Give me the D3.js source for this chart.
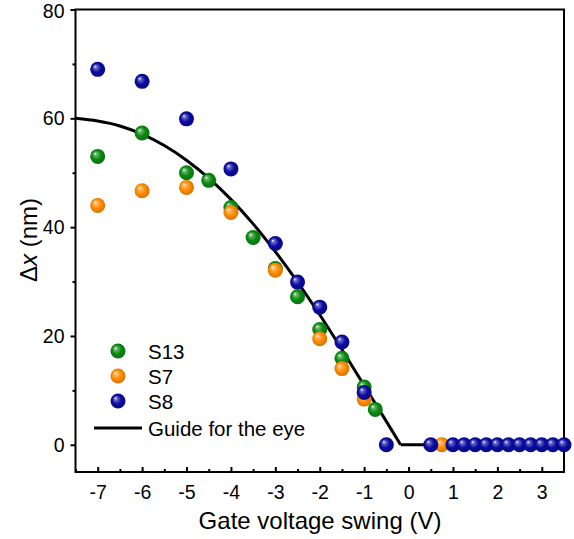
<!DOCTYPE html>
<html>
<head>
<meta charset="utf-8">
<script src="https://cdnjs.cloudflare.com/ajax/libs/d3/7.8.5/d3.min.js"></script>
<style>
  body { margin: 0; background: #fff; }
  text { font-family: "Liberation Sans", Arial, sans-serif; fill: #000; }
</style>
</head>
<body>
<svg width="574" height="539"></svg>
<script>
// series
var s13X = [-7, -6, -5, -4.5, -4, -3.5, -3, -2.5, -2, -1.5, -1, -0.75];
var s13Y = [53, 57.3, 50, 48.6, 43.6, 38.1, 32.4, 27.2, 21.2, 15.9, 10.6, 6.5];

var s7X = [-7, -6, -5, -4, -3, -2, -1.5, -1, 0.75];
var s7Y = [44, 46.7, 47.3, 42.7, 32.1, 19.5, 14, 8.4, 0];

var s8X = [-7, -6, -5, -4, -3, -2.5, -2, -1.5, -1, -0.5, 0.5, 1, 1.25, 1.5, 1.75, 2, 2.25, 2.5, 2.75, 3, 3.25, 3.5];
var s8Y = [69, 66.8, 59.9, 50.7, 37, 29.9, 25.3, 18.9, 9.6, 0, 0, 0, 0, 0, 0, 0, 0, 0, 0, 0, 0, 0];

// guide for the eye: curved part, then flat part
var guideX = [-7.5, -7, -6.5, -6, -5.5, -5, -4.5, -4, -3.5, -3, -2.5, -2, -1.5, -1, -0.5, -0.18];
var guideY = [60, 59.5, 58.6, 57.1, 55.0, 52.3, 49.0, 45.1, 40.6, 35.5, 29.9, 23.9, 17.5, 10.9, 4.3, 0];
var flatX = [-0.18, 3.5];
var flatY = [0, 0];

var xTicks = [-7, -6, -5, -4, -3, -2, -1, 0, 1, 2, 3];
var yTicks = [0, 20, 40, 60, 80];

var seriesNames = ["S13", "S7", "S8"];
var seriesColors = ["#0a8a10", "#ff8c00", "#0a0aa0"];

var svg = d3.select("svg");
var x = d3.scaleLinear().domain([-7.5, 3.5]).range([75.5, 564]);
var y = d3.scaleLinear().domain([-5, 80]).range([472, 9.5]);

// ball gradients
var defs = svg.append("defs");
seriesColors.forEach(function(c, i) {
  var g = defs.append("radialGradient").attr("id", "ball" + i)
    .attr("cx", "50%").attr("cy", "50%").attr("r", "55%")
    .attr("fx", "32%").attr("fy", "30%");
  g.append("stop").attr("offset", "0%").attr("stop-color", "#ffffff");
  g.append("stop").attr("offset", "18%").attr("stop-color", d3.interpolateRgb("#fff", c)(0.6));
  g.append("stop").attr("offset", "55%").attr("stop-color", c);
  g.append("stop").attr("offset", "100%").attr("stop-color", d3.color(c).darker(0.6));
});

// axes
var xMajor = d3.axisBottom(x).tickValues(xTicks).tickSize(-5).tickPadding(13)
  .tickFormat(function(d) { return d < 0 ? "-" + Math.abs(d) : d; });
var xMinor = d3.axisBottom(x).tickValues(d3.range(-7.5, 3.5, 1)).tickSize(-3).tickFormat("");
var yMajor = d3.axisLeft(y).tickValues(yTicks).tickSize(5).tickPadding(6);
var yMinor = d3.axisLeft(y).tickValues([10, 30, 50, 70]).tickSize(3).tickFormat("");

function styleAxis(g) {
  g.select(".domain").remove();
  g.selectAll("line").attr("stroke", "#000").attr("stroke-width", 2);
  g.selectAll("text").attr("font-size", 19.5).attr("font-family", "Liberation Sans, Arial, sans-serif");
}
svg.append("g").attr("transform", "translate(0,472)").call(xMinor).call(styleAxis);
svg.append("g").attr("transform", "translate(0,472)").call(xMajor).call(styleAxis);
svg.append("g").attr("transform", "translate(75.5,0)").call(yMinor).call(styleAxis);
var yAx = svg.append("g").attr("transform", "translate(75.5,0)").call(yMajor).call(styleAxis);
// keep the top label inside the page
yAx.selectAll(".tick text").filter(function(d) { return d === 80; }).attr("y", 2);

// frame
svg.append("rect").attr("x", 75.5).attr("y", 9.5).attr("width", 564 - 75.5).attr("height", 472 - 9.5)
  .attr("fill", "none").attr("stroke", "#000").attr("stroke-width", 2);

// guide line
var line = d3.line().x(function(d) { return x(d[0]); }).y(function(d) { return y(d[1]); });
svg.append("path").datum(guideX.map(function(d, i) { return [d, guideY[i]]; }))
  .attr("d", line.curve(d3.curveMonotoneX))
  .attr("fill", "none").attr("stroke", "#000").attr("stroke-width", 3);
svg.append("path").datum(flatX.map(function(d, i) { return [d, flatY[i]]; }))
  .attr("d", line.curve(d3.curveLinear))
  .attr("fill", "none").attr("stroke", "#000").attr("stroke-width", 3);

// points
var allX = [s13X, s7X, s8X], allY = [s13Y, s7Y, s8Y];
allX.forEach(function(xs, si) {
  svg.append("g").selectAll("circle")
    .data(xs.map(function(d, i) { return [d, allY[si][i]]; }))
    .enter().append("circle")
    .attr("cx", function(d) { return x(d[0]); })
    .attr("cy", function(d) { return y(d[1]); })
    .attr("r", 7.5)
    .attr("fill", "url(#ball" + si + ")");
});

// legend
var leg = svg.append("g");
seriesNames.forEach(function(n, i) {
  var ly = 351 + i * 25;
  leg.append("circle").attr("cx", 118).attr("cy", ly).attr("r", 7.5).attr("fill", "url(#ball" + i + ")");
  leg.append("text").attr("x", 148).attr("y", ly + 7.5).attr("font-size", 20.5).text(n);
});
leg.append("line").attr("x1", 94).attr("x2", 142).attr("y1", 428).attr("y2", 428)
  .attr("stroke", "#000").attr("stroke-width", 3);
leg.append("text").attr("x", 148).attr("y", 435.5).attr("font-size", 20.5).text("Guide for the eye");

// axis titles
svg.append("text").attr("x", 320).attr("y", 529).attr("text-anchor", "middle")
  .attr("font-size", 24).text("Gate voltage swing (V)");
var yt = svg.append("text").attr("transform", "translate(37,240) rotate(-90)")
  .attr("text-anchor", "middle").attr("font-size", 24);
yt.append("tspan").text("\u0394");
yt.append("tspan").attr("font-style", "italic").text("x");
yt.append("tspan").text(" (nm)");
</script>
</body>
</html>
